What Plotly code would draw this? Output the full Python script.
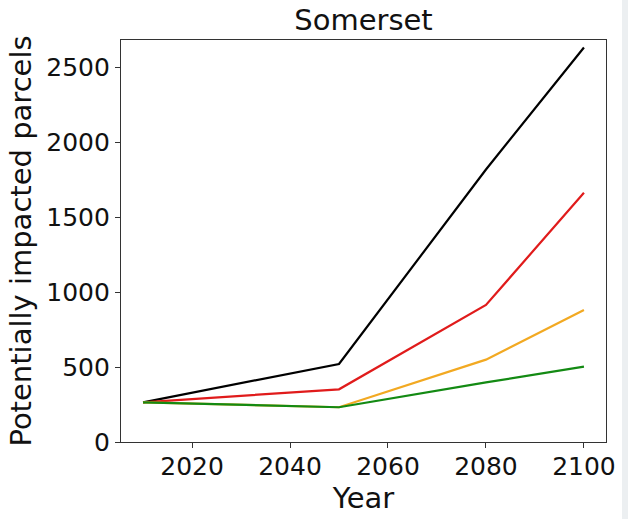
import plotly.graph_objects as go

# Projected number of potentially impacted parcels, Somerset
years = [2010, 2050, 2080, 2100]
black_series = [265, 521, 1820, 2635]
red_series = [265, 352, 915, 1665]
orange_series = [265, 232, 550, 882]
green_series = [265, 232, 398, 503]

x_ticks = [2020, 2040, 2060, 2080, 2100]
y_ticks = [0, 500, 1000, 1500, 2000, 2500]

series = [
    (black_series, "black"),
    (red_series, "#e01b1b"),
    (orange_series, "#f2a922"),
    (green_series, "#138a13"),
]

fig = go.Figure()
for values, color in series:
    fig.add_trace(go.Scatter(
        x=years, y=values, mode="lines",
        line=dict(color=color, width=2.2),
        showlegend=False, hoverinfo="skip",
    ))

font = "DejaVu Sans, sans-serif"
axis_common = dict(
    showline=True, mirror=True, linecolor="#333333", linewidth=1.2,
    ticks="outside", ticklen=5, tickwidth=1.2, tickcolor="#333333",
    showgrid=False, zeroline=False,
    tickfont=dict(family=font, size=25, color="#111111"),
)

fig.update_layout(
    width=628, height=519,
    margin=dict(l=121, r=22, t=40, b=77),
    paper_bgcolor="white", plot_bgcolor="white",
    template="none",
    title=dict(text="Somerset", x=0.5, xanchor="center",
               xref="paper", y=1 - 20 / 519, yref="container", yanchor="middle",
               font=dict(family=font, size=29, color="#111111")),
    xaxis=dict(axis_common, range=[2005.5, 2104.5], tickvals=x_ticks,
               ticklabelstandoff=-3,
               title=dict(text="Year", standoff=2,
                          font=dict(family=font, size=29, color="#111111"))),
    yaxis=dict(axis_common, range=[0, 2685], tickvals=y_ticks,
               title=dict(text="Potentially impacted parcels", standoff=6,
                          font=dict(family=font, size=29, color="#111111"))),
    shapes=[dict(type="rect", xref="paper", yref="paper",
                 x0=1.033, x1=1.05, y0=-0.2, y1=1.11,
                 fillcolor="#eceff1", line=dict(width=0), layer="below")],
)

fig.write_html("out.html")
